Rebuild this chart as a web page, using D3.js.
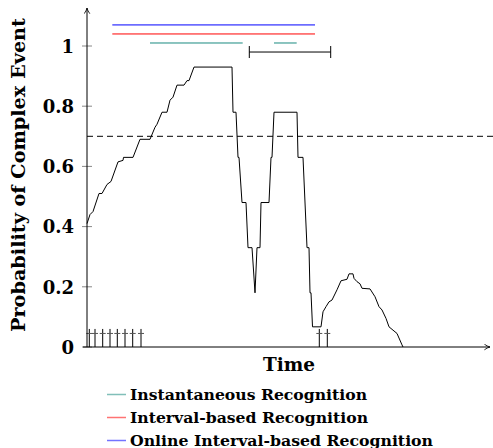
<!DOCTYPE html>
<html>
<head>
<meta charset="utf-8">
<script src="https://d3js.org/d3.v7.min.js"></script>
<style>
  body { margin: 0; background: #fff; }
  text { font-family: "DejaVu Serif", serif; font-weight: bold; }
</style>
</head>
<body>
<div id="chart"></div>
<script>
// probability curve over time
var times = [0, 3, 6, 12, 15, 20, 24, 31, 36, 36.5, 46, 53, 63, 68, 70, 75, 80, 83, 86, 90, 97, 100, 102, 107,
  145, 146, 149, 151, 152, 155, 159, 161, 165, 168, 170, 173, 174, 182, 184, 185, 187, 210, 211, 216, 220, 222,
  223, 224, 225.5, 234, 236, 239, 242, 245, 250, 254, 260, 262, 266, 267, 270, 273, 275, 283, 288, 292, 295,
  299, 302, 306, 310, 315, 316];
var probs = [0.41, 0.44, 0.45, 0.51, 0.51, 0.54, 0.55, 0.615, 0.62, 0.63, 0.63, 0.69, 0.69, 0.73, 0.74, 0.78,
  0.78, 0.82, 0.83, 0.87, 0.87, 0.885, 0.885, 0.93,
  0.93, 0.78, 0.78, 0.63, 0.63, 0.48, 0.48, 0.33, 0.33, 0.18, 0.33, 0.33, 0.48, 0.48, 0.63, 0.63, 0.78, 0.78,
  0.63, 0.63, 0.33, 0.33, 0.18, 0.18, 0.067, 0.067, 0.117, 0.134, 0.15, 0.156, 0.19, 0.22, 0.225, 0.243,
  0.243, 0.228, 0.217, 0.21, 0.195, 0.193, 0.167, 0.134, 0.123, 0.095, 0.067, 0.056, 0.045, 0.007, 0];

var threshold = 0.7;
var yTicks = [0, 0.2, 0.4, 0.6, 0.8, 1];
var eventTimes = [2.3, 8, 15.7, 23, 30.3, 38, 45.7, 54, 232.3, 240.3];

// recognised intervals [start, end]
var instantIntervals = [[63, 155.7], [187, 209.7]];
var intervalBased = [[25.3, 228]];
var onlineIntervals = [[25.3, 228]];
var windowInterval = [162.3, 243.7];

var legendLabels = ["Instantaneous Recognition", "Interval-based Recognition", "Online Interval-based Recognition"];
var legendColors = ["#1a8a80", "#ff0000", "#0000ff"];
var legendWidths = [237, 238, 303];

var width = 493, height = 448;
var svg = d3.select("#chart").append("svg")
  .attr("width", width)
  .attr("height", height);

var x = d3.scaleLinear().domain([0, 403]).range([87, 490]);
var y = d3.scaleLinear().domain([0, 1]).range([347, 46]);

svg.append("defs").append("marker")
  .attr("id", "arrow")
  .attr("viewBox", "0 0 10 10")
  .attr("refX", 9).attr("refY", 5)
  .attr("markerWidth", 7).attr("markerHeight", 7)
  .attr("markerUnits", "userSpaceOnUse")
  .attr("orient", "auto")
  .append("path")
  .attr("d", "M1,1 Q5,4 9,5 Q5,6 1,9")
  .attr("fill", "none")
  .attr("stroke", "#000")
  .attr("stroke-width", 1.2);

// y axis ticks
var yAxis = d3.axisLeft(y).tickValues(yTicks).tickSize(0).tickFormat(function(d) { return d === 0 || d === 1 ? d : d3.format(".1f")(d); });
var gy = svg.append("g").attr("transform", "translate(" + x(0) + ",0)").call(yAxis);
gy.select(".domain").remove();
gy.selectAll("text").attr("x", -13).attr("dy", "0.35em").style("font-size", "18px").style("font-family", "DejaVu Serif").style("font-weight", "bold").attr("fill", "#000");
svg.selectAll(".ytick").data(yTicks).enter().append("line")
  .attr("x1", x(0) - 5).attr("x2", x(0) + 5)
  .attr("y1", function(d) { return y(d); }).attr("y2", function(d) { return y(d); })
  .attr("stroke", "#888").attr("stroke-width", 1);

// threshold
svg.append("line")
  .attr("x1", x(0)).attr("x2", width)
  .attr("y1", y(threshold)).attr("y2", y(threshold))
  .attr("stroke", "#000").attr("stroke-width", 1)
  .attr("stroke-dasharray", "6,4");

// curve
var pts = times.map(function(t, i) { return [t, probs[i]]; });
svg.append("path")
  .datum(pts)
  .attr("d", d3.line().x(function(d) { return x(d[0]); }).y(function(d) { return y(d[1]); }))
  .attr("fill", "none").attr("stroke", "#000").attr("stroke-width", 1);

// event markers
var ev = svg.selectAll(".ev").data(eventTimes).enter().append("g");
ev.append("line")
  .attr("x1", function(d) { return x(d); }).attr("x2", function(d) { return x(d); })
  .attr("y1", y(0)).attr("y2", y(0.06))
  .attr("stroke", "#000").attr("stroke-width", 1);
ev.append("line")
  .attr("x1", function(d) { return x(d) - 3; }).attr("x2", function(d) { return x(d) + 3; })
  .attr("y1", y(0.045)).attr("y2", y(0.045))
  .attr("stroke", "#555").attr("stroke-width", 1);

// axes with arrows
svg.append("line")
  .attr("x1", x(0) - 4).attr("x2", x(403))
  .attr("y1", y(0)).attr("y2", y(0))
  .attr("stroke", "#000").attr("stroke-width", 1)
  .attr("marker-end", "url(#arrow)");
svg.append("line")
  .attr("x1", x(0)).attr("x2", x(0))
  .attr("y1", y(0)).attr("y2", y(1.126))
  .attr("stroke", "#000").attr("stroke-width", 1)
  .attr("marker-end", "url(#arrow)");

// recognition intervals
function bars(data, level, color) {
  svg.selectAll(null).data(data).enter().append("line")
    .attr("x1", function(d) { return x(d[0]); }).attr("x2", function(d) { return x(d[1]); })
    .attr("y1", y(level)).attr("y2", y(level))
    .attr("stroke", color).attr("stroke-width", 1);
}
bars(onlineIntervals, 1.07, legendColors[2]);
bars(intervalBased, 1.04, legendColors[1]);
bars(instantIntervals, 1.01, legendColors[0]);

// working window
var wy = y(0.98);
svg.append("line").attr("x1", x(windowInterval[0])).attr("x2", x(windowInterval[1]))
  .attr("y1", wy).attr("y2", wy).attr("stroke", "#000").attr("stroke-width", 1);
svg.selectAll(null).data(windowInterval).enter().append("line")
  .attr("x1", function(d) { return x(d); }).attr("x2", function(d) { return x(d); })
  .attr("y1", wy - 6).attr("y2", wy + 6)
  .attr("stroke", "#000").attr("stroke-width", 1);

// axis labels
svg.append("text")
  .attr("x", 289).attr("y", 371)
  .attr("text-anchor", "middle")
  .attr("textLength", 52).attr("lengthAdjust", "spacingAndGlyphs")
  .style("font-size", "18px")
  .text("Time");
svg.append("text")
  .attr("transform", "translate(25,175) rotate(-90)")
  .attr("text-anchor", "middle")
  .attr("textLength", 314).attr("lengthAdjust", "spacingAndGlyphs")
  .style("font-size", "19px")
  .text("Probability of Complex Event");

// legend
var legendItems = legendLabels.map(function(l, i) { return {label: l, color: legendColors[i], w: legendWidths[i]}; });
var lg = svg.selectAll(".lg").data(legendItems).enter().append("g")
  .attr("transform", function(d, i) { return "translate(107," + (394.5 + i * 23) + ")"; });
lg.append("line").attr("x1", 0).attr("x2", 19).attr("y1", 0).attr("y2", 0)
  .attr("stroke", function(d) { return d.color; })
  .attr("stroke-opacity", 0.55).attr("stroke-width", 1.5);
lg.append("text").attr("x", 23).attr("y", 5)
  .attr("textLength", function(d) { return d.w; }).attr("lengthAdjust", "spacingAndGlyphs")
  .style("font-size", "15px")
  .text(function(d) { return d.label; });
</script>
</body>
</html>
